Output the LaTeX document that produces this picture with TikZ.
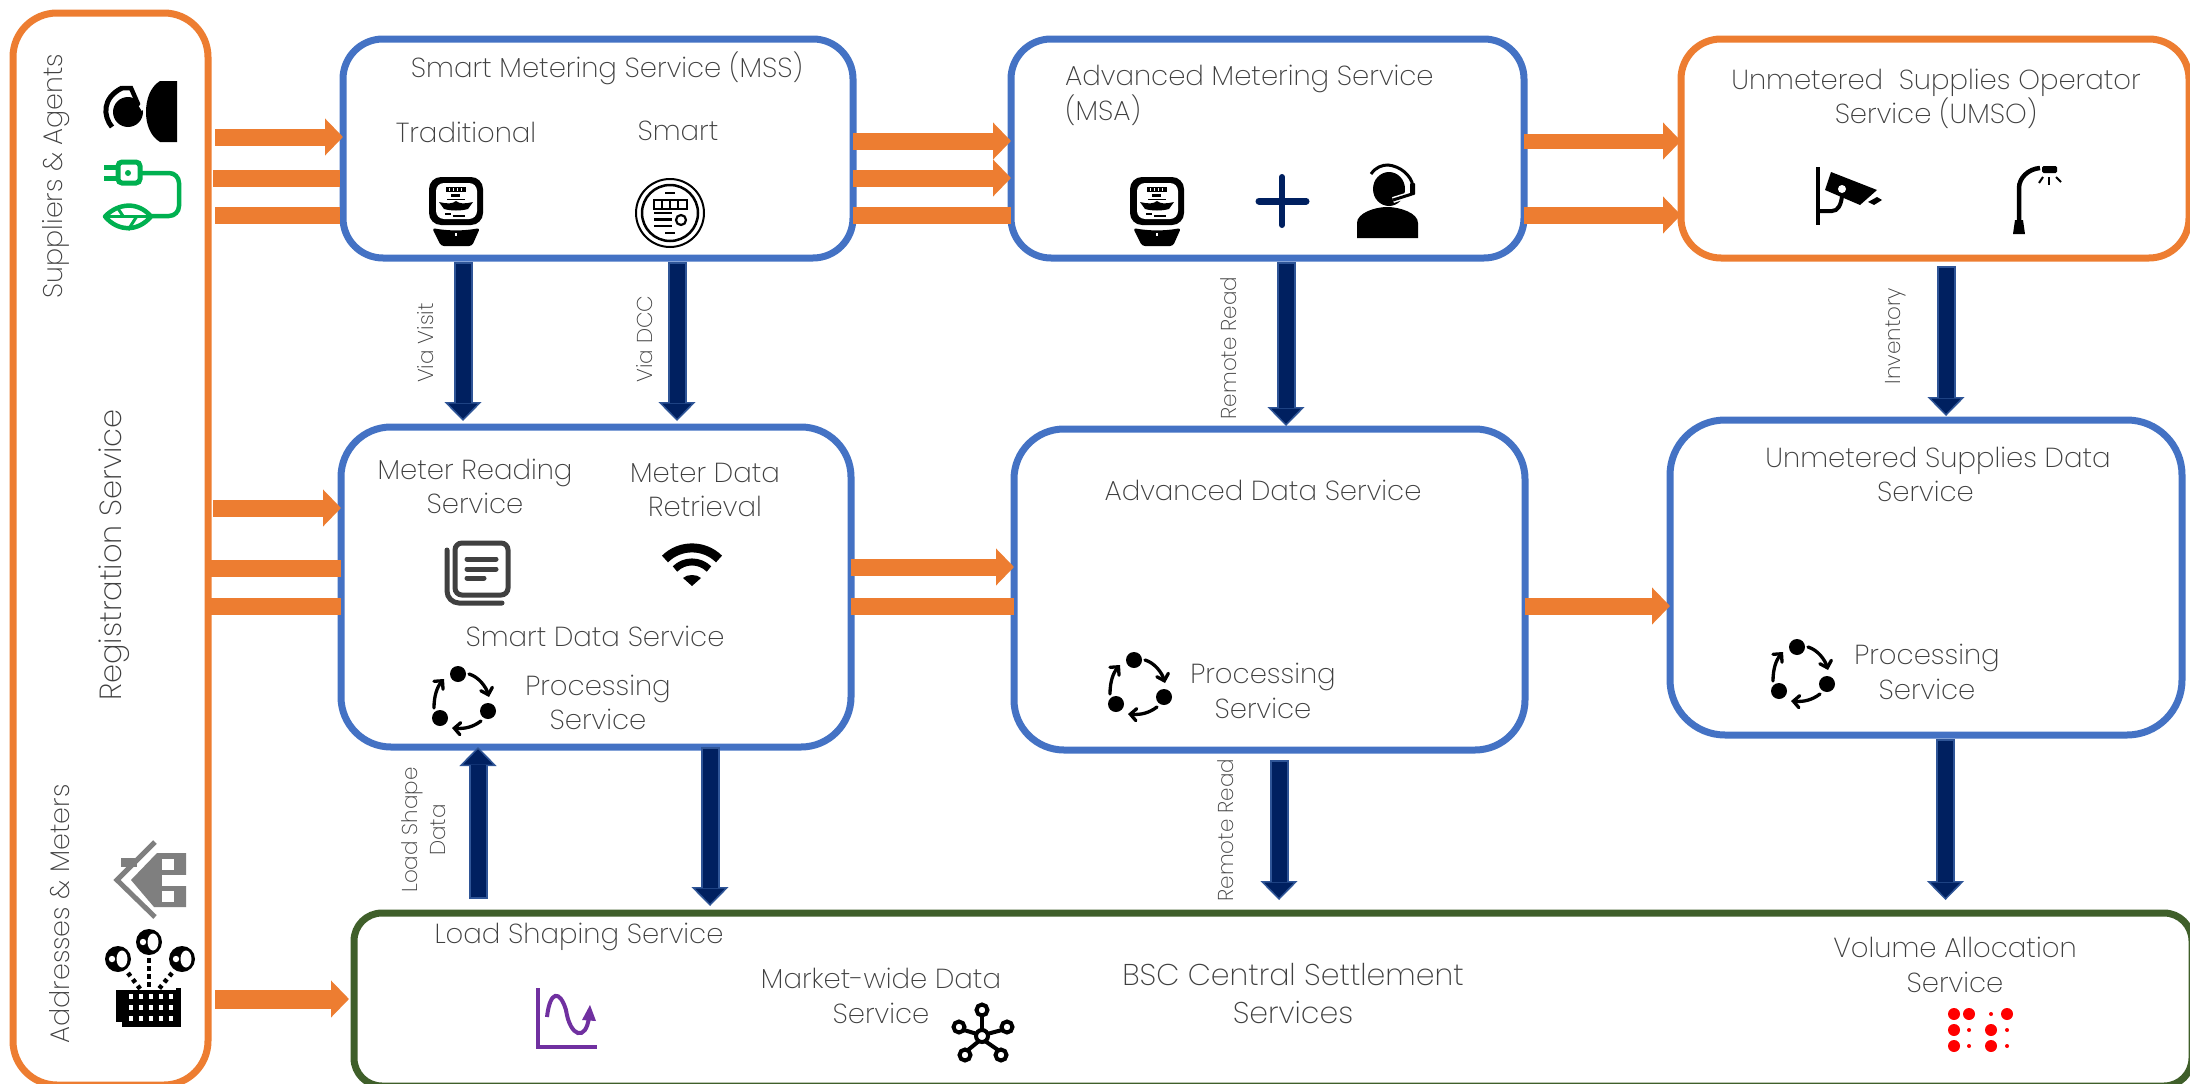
\documentclass[tikz,border=0pt]{standalone}
\usepackage{fontspec}
\setmainfont{Poppins ExtraLight}
\usetikzlibrary{arrows.meta,calc}
\definecolor{boxblue}{HTML}{4472C4}
\definecolor{boxorange}{HTML}{ED7D31}
\definecolor{boxgreen}{HTML}{3F5F2A}
\definecolor{navy}{HTML}{002060}
\definecolor{navyedge}{HTML}{2F5597}
\definecolor{txtgray}{HTML}{404040}
\definecolor{leafgreen}{HTML}{00B050}
\definecolor{purp}{HTML}{7030A0}
\definecolor{housegray}{HTML}{7F7F7F}
\tikzset{
 panel/.style={draw=#1,line width=7pt,fill=white,outer sep=0pt,inner sep=0pt,rectangle},
 lbl/.style={text=txtgray,inner sep=0pt,align=center,font=\fontsize{27.5}{34.5}\selectfont},
 vlbl/.style={text=txtgray,inner sep=0pt,align=center,rotate=90,font=\fontsize{21.5}{28}\selectfont},
 slbl/.style={text=txtgray,inner sep=0pt,rotate=90,font=\fontsize{27}{27}\selectfont},
 orarrow/.style={draw=boxorange,line width=#1,-{Triangle[length=18pt,width=36pt,fill=boxorange]}},
 orarrow/.default=17pt,
 orbar/.style={draw=boxorange,line width=17pt},
 navyarrow/.style n args={2}{draw=navyedge,line width=19pt,shorten <=#1,shorten >=#2,
   -{Triangle[length=19pt,width=37pt,fill=navy,line width=1.5pt]},
   postaction={draw=navy,line width=15pt,-,shorten <=#1+2pt,shorten >=#2+18pt}},
 pics/meter/.style={code={
   \fill[black,rounded corners=12pt] (-27,-35) rectangle (27,13);
   \fill[white,rounded corners=8pt] (-20,-29) rectangle (21,7);
   \fill[black] (-10,-25) rectangle (10,-20);
   \foreach \u in {-7,-3,1,5}{\fill[white] (\u,-24) rectangle (\u+1.2,-21);}
   \fill[black] (-5,-18) rectangle (4,-15.5);
   \draw[black,line width=0.9pt] (-9,-12.5) -- (9,-12.5);
   \fill[black] (-17,-10) .. controls (-8,-8) and (-4,-8) .. (0,-11) .. controls (4,-8) and (8,-8) .. (17,-10) -- (12,-3) .. controls (5,-1) and (-5,-1) .. (-12,-3) -- cycle;
   \fill[black] (-11,1) rectangle (-5,3);\fill[black] (-3,3) rectangle (9,5);
   \fill[black,rounded corners=3pt] (-24,16) .. controls (-8,19) and (8,19) .. (24,16) -- (16,34) -- (-15,34) -- cycle;
   \fill[white] (-1,21) rectangle (1,24);
 }},
 pics/smartmeter/.style={code={
   \draw[black,line width=2pt] (0,0) circle[radius=34];
   \draw[black,line width=2.5pt] (0,0) circle[radius=28];
   \draw[black,line width=1.6pt] (-16,-13) rectangle (17,-4);
   \foreach \u in {-8,0,8}{\draw[black,line width=1.6pt] (\u,-13) -- (\u,-4);}
   \foreach \u in {0,6.5,13}{\draw[black,line width=2.2pt] (-16,\u) -- (2,\u);}
   \draw[black,line width=2.2pt] (11,7) circle[radius=5];
   \draw[black,line width=2.2pt] (-5,-20) -- (5,-20);
   \draw[black,line width=2.2pt] (-5,20) -- (5,20);
 }},
 pics/cycle/.style={code={
   \fill[black] (-6,-26) circle[radius=8];
   \fill[black] (24,11) circle[radius=8];
   \fill[black] (-24,18) circle[radius=8];
   \begin{scope}[line width=3.3pt,line cap=round,-{Straight Barb[length=6pt,width=12pt,line cap=round]}]
   \draw[black] (5,-26) .. controls (15,-23) and (22,-13) .. (25,-3);
   \draw[black] (17,21) .. controls (9,27) and (1,29) .. (-12,28);
   \draw[black] (-30,8) .. controls (-30,-4) and (-27,-13) .. (-20,-21);
   \end{scope}
 }},
}
\begin{document}
\begin{tikzpicture}[x=1pt,y=-1pt]
\useasboundingbox (0,0) rectangle (2190,1084);
\clip (0,0) rectangle (2190,1084);
\fill[white] (0,0) rectangle (2190,1084);
% panels
\node[panel=boxorange,rounded corners=44pt,minimum width=195pt,minimum height=1072pt] (left) at (110.5,549) {};
\node[panel=boxblue,rounded corners=40pt,minimum width=510pt,minimum height=219pt] (mss) at (598,148.5) {};
\node[panel=boxblue,rounded corners=40pt,minimum width=513pt,minimum height=219pt] (msa) at (1267.5,148.5) {};
\node[panel=boxorange,rounded corners=40pt,minimum width=508pt,minimum height=219pt] (umso) at (1935,148.5) {};
\node[panel=boxblue,rounded corners=50pt,minimum width=510pt,minimum height=320pt] (mrs) at (596,587) {};
\node[panel=boxblue,rounded corners=50pt,minimum width=511pt,minimum height=321pt] (ads) at (1269.5,589.5) {};
\node[panel=boxblue,rounded corners=55pt,minimum width=512pt,minimum height=315pt] (usds) at (1926,577.5) {};
\node[panel=boxgreen,rounded corners=28pt,minimum width=1838pt,minimum height=173pt] (css) at (1273,999.5) {};
% orange connectors
\draw[orarrow,shorten <=7pt] (left.east |- 0,137) -- (mss.west |- 0,137);
\draw[orbar,shorten <=5pt,shorten >=3pt] (left.east |- 0,178) -- (mss.west |- 0,178);
\draw[orbar,shorten <=7pt,shorten >=3pt] (left.east |- 0,215) -- (mss.west |- 0,215);
\draw[orarrow] (mss.east |- 0,141) -- (msa.west |- 0,141);
\draw[orarrow] (mss.east |- 0,178) -- (msa.west |- 0,178);
\draw[orbar] (mss.east |- 0,215) -- (msa.west |- 0,215);
\draw[orarrow=15pt] (msa.east |- 0,141) -- (umso.west |- 0,141);
\draw[orarrow] (msa.east |- 0,215) -- (umso.west |- 0,215);
\draw[orarrow,shorten <=5pt] (left.east |- 0,508) -- (mrs.west |- 0,508);
\draw[orbar] (left.east |- 0,568) -- (mrs.west |- 0,568);
\draw[orbar] (left.east |- 0,606) -- (mrs.west |- 0,606);
\draw[orarrow] (mrs.east |- 0,567) -- (ads.west |- 0,567);
\draw[orbar] (mrs.east |- 0,606) -- (ads.west |- 0,606);
\draw[orarrow] (ads.east |- 0,606) -- (usds.west |- 0,606);
\draw[orarrow=19pt,shorten <=7pt,shorten >=5pt] (left.east |- 0,999) -- (css.west |- 0,999);
% navy connectors
\draw[navyarrow={4pt}{6pt}] (mss.south -| 463,0) -- (mrs.north -| 463,0);
\draw[navyarrow={4pt}{6pt}] (mss.south -| 677,0) -- (mrs.north -| 677,0);
\draw[navyarrow={4pt}{3pt}] (msa.south -| 1286,0) -- (ads.north -| 1286,0);
\draw[navyarrow={8pt}{4pt}] (umso.south -| 1946,0) -- (usds.north -| 1946,0);
\draw[navyarrow={14pt}{0pt}] (css.north -| 478,0) -- (mrs.south -| 478,0);
\draw[navyarrow={0pt}{7pt}] (mrs.south -| 710,0) -- (css.north -| 710,0);
\draw[navyarrow={10pt}{13pt}] (ads.south -| 1279,0) -- (css.north -| 1279,0);
\draw[navyarrow={4pt}{13pt}] (usds.south -| 1945.5,0) -- (css.north -| 1945.5,0);
% side labels
\node[slbl] (t1) at (56,176) {Suppliers \& Agents};
\node[slbl,font=\fontsize{30.5}{30}\selectfont] (t2) at (114,555) {Registration Service};
\node[slbl] (t3) at (60,914) {Addresses \& Meters};
% box labels
\node[lbl] (t4) at (607,68) {Smart Metering Service (MSS)};
\node[lbl] (t5) at (466,132) {Traditional};
\node[lbl] (t6) at (678,131) {Smart};
\node[lbl,anchor=west,align=left] (t7) at (1065,95.5) {Advanced Metering Service\\(MSA)};
\node[lbl] (t8) at (1936,99) {Unmetered\ \ Supplies Operator\\Service (UMSO)};
\node[lbl] (t9) at (475,486.5) {Meter Reading\\Service};
\node[lbl] (t10) at (705,490) {Meter Data\\Retrieval};
\node[lbl] (t11) at (595,636) {Smart Data Service};
\node[lbl] (t12) at (598,702.5) {Processing\\Service};
\node[lbl] (t13) at (1263,490) {Advanced Data Service};
\node[lbl] (t14) at (1263,691) {Processing\\Service};
\node[lbl] (t15) at (1938,474.5) {Unmetered Supplies Data\\Service\hspace*{25pt}};
\node[lbl] (t16) at (1927,672) {Processing\\Service};
\node[lbl] (t17) at (579,937) {Load Shaping Service};
\node[lbl] (t18) at (881,996) {Market-wide Data\\Service};
\node[lbl,font=\fontsize{30}{38}\selectfont] (t19) at (1293,994) {BSC Central Settlement\\Services};
\node[lbl] (t20) at (1955,965) {Volume Allocation\\Service};
% connector labels
\node[vlbl] (v1) at (426,343) {Via Visit};
\node[vlbl] (v2) at (645,339) {Via DCC};
\node[vlbl] (v3) at (1229,348) {Remote Read};
\node[vlbl] (v4) at (1896,336) {Inventory};
\node[vlbl] (v5) at (424,830) {Load Shape\\Data};
\node[vlbl] (v6) at (1226,830) {Remote Read};
% icons
\pic at (456,212) {meter};
\pic at (1157,212) {meter};
\pic at (670,213) {smartmeter};
\pic at (464,700) {cycle};
\pic at (1140,686) {cycle};
\pic at (1803,673) {cycle};
% plus
\draw[navy,line width=7pt,line cap=round] (1259,201) -- (1306,201);
\draw[navy,line width=6pt,line cap=round] (1282,177) -- (1282,225);
% agent
\fill[black] (1389,189) ellipse[x radius=16,y radius=17];
\fill[black] (1357,238) -- (1357,223) .. controls (1357,213) and (1375,207) .. (1387,207) .. controls (1400,207) and (1418,213) .. (1418,223) -- (1418,238) -- cycle;
\draw[white,line width=6pt] (1412,194) -- (1393,200);
\draw[black,line width=3pt] (1412,194) -- (1393,200);
\draw[black,line width=3pt] (1371,174) .. controls (1376,167) and (1382,165) .. (1388,165) .. controls (1400,166) and (1411,175) .. (1413,186);
\fill[black,rounded corners=1pt] (1410,183) rectangle (1415,195);
% camera
\draw[black,line width=4pt] (1817.5,167) -- (1817.5,225);
\fill[black] (1831,172) -- (1877,190) -- (1860,205) -- (1825,190) -- cycle;
\fill[white] (1842,189) circle[radius=4];
\draw[black,line width=4pt] (1818,211) -- (1832,211) .. controls (1838,211) and (1841,205) .. (1842,196);
\fill[black] (1868,202) -- (1877,197) -- (1882,200) -- (1874,205) -- cycle;
% street light
\draw[black,line width=4.5pt] (2019,225) -- (2019,188) .. controls (2019,178) and (2028,169) .. (2040,168);
\fill[black] (2015,220) -- (2023,220) -- (2025,234) -- (2013,234) -- cycle;
\fill[black,rounded corners=1.5pt] (2042,166) rectangle (2057,173);
\draw[black,line width=2pt] (2043,177) -- (2039,183);
\draw[black,line width=2pt] (2049,177) -- (2049,185);
\draw[black,line width=2pt] (2056,177) -- (2061,182);
% dial icon
\fill[black] (177,81) -- (160,81) .. controls (150,87) and (146,100) .. (146,112) .. controls (146,124) and (150,136) .. (160,142) -- (177,142) -- cycle;
\fill[black] (128,112) circle[radius=15];
\draw[white,line width=3pt] (126,93) -- (135,97) -- (143,110);
\draw[black,line width=4.5pt,line cap=round] (122,88) -- (131,88) -- (138,104);
\draw[black,line width=5pt] (112,127) .. controls (103,116) and (102,98) .. (122,88);
% plug icon
\draw[leafgreen,line width=5pt,rounded corners=4pt] (118,162) rectangle (140,183);
\fill[leafgreen] (104,165) rectangle (116,169.5);
\fill[leafgreen] (104,176) rectangle (116,180.5);
\fill[leafgreen] (128,173) circle[radius=3];
\draw[leafgreen,line width=4.5pt,rounded corners=10pt] (142,173) -- (179,173) -- (179,216) -- (150,216);
\draw[leafgreen,line width=4.5pt,line join=round] (105,216.5) .. controls (118,203) and (138,201) .. (151,216.5) .. controls (138,232) and (118,232) .. cycle;
\draw[leafgreen,line width=3.5pt] (106,216.5) -- (150,216.5);
\draw[leafgreen,line width=3pt] (117,207) -- (123,216);
\draw[leafgreen,line width=3pt] (137,216) -- (128,230);
% house
\draw[housegray,line width=5pt] (155,842) -- (117,880) -- (155,917);
\fill[housegray] (157,853) -- (186,853) -- (186,907) -- (154,907) -- (131,880) -- cycle;
\fill[housegray] (121,858) rectangle (137,867);
\fill[white] (162,859) rectangle (174,870);
\fill[white] (162,875) rectangle (187,886);
\fill[white] (162,891) rectangle (174,902);
% building and people
\fill[black] (116,990) rectangle (179,1022);
\fill[black] (122,1022) rectangle (181,1027);
\fill[black] (176,988) rectangle (181,1026);
\foreach \r in {996,1007,1018}{\foreach \c in {129,139,149,159,169}{\fill[white] (\c,\r-2.5) rectangle (\c+4,\r+2.5);}}
\foreach \p/\q in {118/959,149/942,182/959}{
  \fill[black] (\p,\q) ellipse[x radius=13,y radius=13];
  \fill[white] (\p-6,\q) circle[radius=3.2];
  \fill[white] (\p+4,\q) ellipse[x radius=5.5,y radius=8.5];
}
\draw[black,line width=4.5pt,dash pattern=on 4.5pt off 3.5pt] (149,958) -- (149,988);
\draw[black,line width=4.5pt,dash pattern=on 4pt off 4pt] (128,973) -- (141,990);
\draw[black,line width=4.5pt,dash pattern=on 4pt off 4pt] (172,973) -- (158,990);
% documents
\draw[txtgray,line width=5pt,rounded corners=7pt] (455,543) rectangle (508,595);
\draw[txtgray,line width=5pt,line cap=round] (467,559) -- (496,559);
\draw[txtgray,line width=5pt,line cap=round] (467,569) -- (496,569);
\draw[txtgray,line width=5pt,line cap=round] (467,578) -- (484,578);
\draw[txtgray,line width=5pt,line cap=round,rounded corners=12pt] (447,550) -- (447,603) -- (502,603);
% wifi
\begin{scope}[shift={(692,586)},black]
\draw[line width=9pt] (-27,-27) .. controls (-12.2,-41.8) and (12.2,-41.8) .. (27,-27);
\draw[line width=7pt] (-17,-17) .. controls (-7.6,-26.4) and (7.6,-26.4) .. (17,-17);
\fill (0,0) -- (-9,-8) .. controls (-5,-12) and (5,-12) .. (9,-8) -- cycle;
\end{scope}
% chart
\draw[purp,line width=4pt] (538,988) -- (538,1047) -- (597,1047);
\draw[purp,line width=4pt] (547,1017) .. controls (550,990) and (560,990) .. (566,1010) .. controls (570,1037) and (586,1042) .. (589,1017);
\fill[purp] (582,1020) -- (590,1005) -- (596,1021) -- cycle;
% hub
\begin{scope}[black,line width=4pt]
\draw (982,1036) circle[radius=6];
\foreach \p/\q in {982/1010,959/1027,1007/1027,965/1055,1001/1055}{\draw (\p,\q) circle[radius=5.5];}
\draw (982,1016) -- (982,1030);
\draw (964,1030) -- (977,1034);
\draw (1002,1030) -- (987,1034);
\draw (968,1050) -- (979,1041);
\draw (998,1050) -- (985,1041);
\end{scope}
% dots
\begin{scope}[red]
\foreach \p/\q in {1954/1014,1969/1014,2007/1014,1954/1030,1991/1030,1954/1046,1991/1046}{\fill (\p,\q) circle[radius=6];}
\foreach \p/\q in {1991/1014,1969/1030,2007/1030,1969/1046,2007/1046}{\fill (\p,\q) circle[radius=2];}
\end{scope}
\end{tikzpicture}
\end{document}
